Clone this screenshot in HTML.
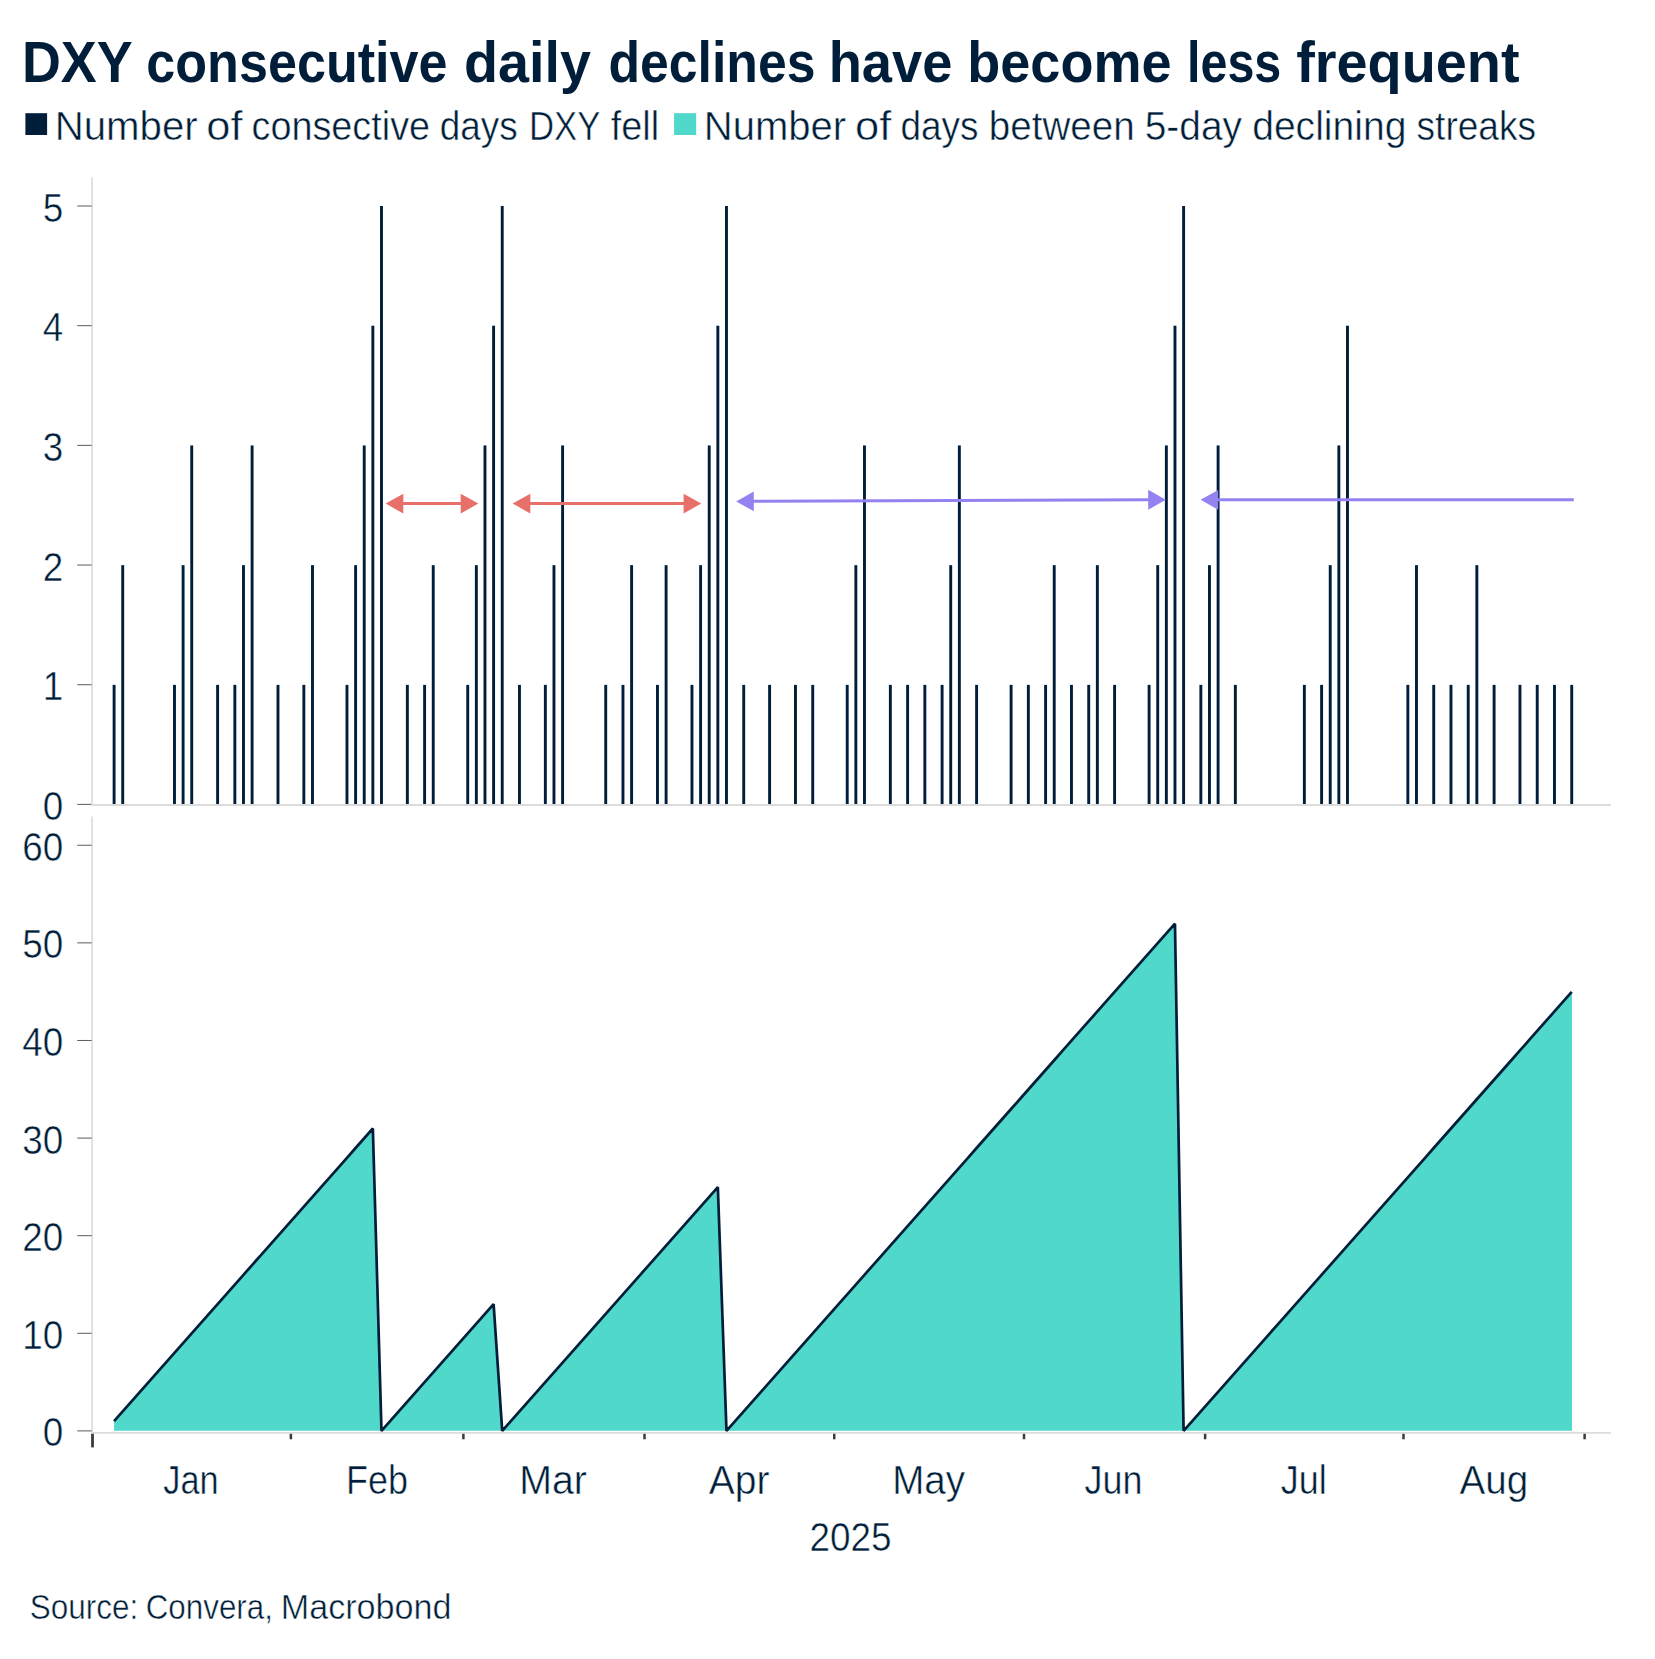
<!DOCTYPE html>
<html lang="en"><head><meta charset="utf-8"><title>DXY consecutive daily declines have become less frequent</title>
<style>html,body{margin:0;padding:0;background:#fff}body{width:1655px;height:1659px;overflow:hidden}svg{display:block}text{font-family:"Liberation Sans",Arial,sans-serif;fill:#001e39;font-kerning:none}</style></head><body>
<svg width="1655" height="1659" viewBox="0 0 1655 1659">
<rect width="1655" height="1659" fill="#fff"/>
<text y="82.2" font-size="57.2" font-weight="bold"><tspan x="21.90" textLength="110.77" lengthAdjust="spacingAndGlyphs">DXY</tspan> <tspan x="146.26" textLength="301.32" lengthAdjust="spacingAndGlyphs">consecutive</tspan> <tspan x="464.02" textLength="126.88" lengthAdjust="spacingAndGlyphs">daily</tspan> <tspan x="608.48" textLength="207.04" lengthAdjust="spacingAndGlyphs">declines</tspan> <tspan x="828.71" textLength="123.75" lengthAdjust="spacingAndGlyphs">have</tspan> <tspan x="967.24" textLength="204.31" lengthAdjust="spacingAndGlyphs">become</tspan> <tspan x="1187.02" textLength="94.27" lengthAdjust="spacingAndGlyphs">less</tspan> <tspan x="1296.15" textLength="223.44" lengthAdjust="spacingAndGlyphs">frequent</tspan></text>
<rect x="25.4" y="113.2" width="21.7" height="21.8" fill="#001e39"/>
<text y="139.55" font-size="39.8" stroke="#fff" stroke-width="0.5"><tspan x="54.70" textLength="143.07" lengthAdjust="spacingAndGlyphs">Number</tspan> <tspan x="206.27" textLength="36.26" lengthAdjust="spacingAndGlyphs">of</tspan> <tspan x="251.49" textLength="178.59" lengthAdjust="spacingAndGlyphs">consective</tspan> <tspan x="439.75" textLength="77.88" lengthAdjust="spacingAndGlyphs">days</tspan> <tspan x="528.95" textLength="71.41" lengthAdjust="spacingAndGlyphs">DXY</tspan> <tspan x="610.76" textLength="48.37" lengthAdjust="spacingAndGlyphs">fell</tspan></text>
<rect x="674.1" y="113.2" width="22.1" height="21.8" fill="#50d8cb"/>
<text y="139.55" font-size="39.8" stroke="#fff" stroke-width="0.5"><tspan x="703.82" textLength="142.35" lengthAdjust="spacingAndGlyphs">Number</tspan> <tspan x="854.97" textLength="36.26" lengthAdjust="spacingAndGlyphs">of</tspan> <tspan x="900.45" textLength="77.98" lengthAdjust="spacingAndGlyphs">days</tspan> <tspan x="988.81" textLength="145.89" lengthAdjust="spacingAndGlyphs">between</tspan> <tspan x="1144.74" textLength="97.33" lengthAdjust="spacingAndGlyphs">5-day</tspan> <tspan x="1252.16" textLength="154.26" lengthAdjust="spacingAndGlyphs">declining</tspan> <tspan x="1416.57" textLength="119.47" lengthAdjust="spacingAndGlyphs">streaks</tspan></text>
<line x1="92.1" y1="177.6" x2="92.1" y2="805.2" stroke="#dcdcdc" stroke-width="1.6"/>
<line x1="77.2" y1="804.40" x2="91.7" y2="804.40" stroke="#5c5c5c" stroke-width="1"/>
<text x="42.70" y="819.90" font-size="40.2" textLength="20.5" lengthAdjust="spacingAndGlyphs" stroke="#fff" stroke-width="0.5">0</text>
<line x1="77.2" y1="684.72" x2="91.7" y2="684.72" stroke="#5c5c5c" stroke-width="1"/>
<text x="42.70" y="700.22" font-size="40.2" textLength="20.5" lengthAdjust="spacingAndGlyphs" stroke="#fff" stroke-width="0.5">1</text>
<line x1="77.2" y1="565.04" x2="91.7" y2="565.04" stroke="#5c5c5c" stroke-width="1"/>
<text x="42.70" y="580.54" font-size="40.2" textLength="20.5" lengthAdjust="spacingAndGlyphs" stroke="#fff" stroke-width="0.5">2</text>
<line x1="77.2" y1="445.36" x2="91.7" y2="445.36" stroke="#5c5c5c" stroke-width="1"/>
<text x="42.70" y="460.86" font-size="40.2" textLength="20.5" lengthAdjust="spacingAndGlyphs" stroke="#fff" stroke-width="0.5">3</text>
<line x1="77.2" y1="325.68" x2="91.7" y2="325.68" stroke="#5c5c5c" stroke-width="1"/>
<text x="42.70" y="341.18" font-size="40.2" textLength="20.5" lengthAdjust="spacingAndGlyphs" stroke="#fff" stroke-width="0.5">4</text>
<line x1="77.2" y1="206.00" x2="91.7" y2="206.00" stroke="#5c5c5c" stroke-width="1"/>
<text x="42.70" y="221.50" font-size="40.2" textLength="20.5" lengthAdjust="spacingAndGlyphs" stroke="#fff" stroke-width="0.5">5</text>
<rect x="112.65" y="684.88" width="2.9" height="119.42" fill="#001e39"/>
<rect x="121.27" y="565.16" width="2.9" height="239.14" fill="#001e39"/>
<rect x="173.03" y="684.88" width="2.9" height="119.42" fill="#001e39"/>
<rect x="181.65" y="565.16" width="2.9" height="239.14" fill="#001e39"/>
<rect x="190.28" y="445.44" width="2.9" height="358.86" fill="#001e39"/>
<rect x="216.15" y="684.88" width="2.9" height="119.42" fill="#001e39"/>
<rect x="233.40" y="684.88" width="2.9" height="119.42" fill="#001e39"/>
<rect x="242.03" y="565.16" width="2.9" height="239.14" fill="#001e39"/>
<rect x="250.65" y="445.44" width="2.9" height="358.86" fill="#001e39"/>
<rect x="276.53" y="684.88" width="2.9" height="119.42" fill="#001e39"/>
<rect x="302.40" y="684.88" width="2.9" height="119.42" fill="#001e39"/>
<rect x="311.03" y="565.16" width="2.9" height="239.14" fill="#001e39"/>
<rect x="345.53" y="684.88" width="2.9" height="119.42" fill="#001e39"/>
<rect x="354.15" y="565.16" width="2.9" height="239.14" fill="#001e39"/>
<rect x="362.78" y="445.44" width="2.9" height="358.86" fill="#001e39"/>
<rect x="371.40" y="325.72" width="2.9" height="478.58" fill="#001e39"/>
<rect x="380.03" y="206.00" width="2.9" height="598.30" fill="#001e39"/>
<rect x="405.90" y="684.88" width="2.9" height="119.42" fill="#001e39"/>
<rect x="423.15" y="684.88" width="2.9" height="119.42" fill="#001e39"/>
<rect x="431.78" y="565.16" width="2.9" height="239.14" fill="#001e39"/>
<rect x="466.28" y="684.88" width="2.9" height="119.42" fill="#001e39"/>
<rect x="474.90" y="565.16" width="2.9" height="239.14" fill="#001e39"/>
<rect x="483.53" y="445.44" width="2.9" height="358.86" fill="#001e39"/>
<rect x="492.15" y="325.72" width="2.9" height="478.58" fill="#001e39"/>
<rect x="500.78" y="206.00" width="2.9" height="598.30" fill="#001e39"/>
<rect x="518.02" y="684.88" width="2.9" height="119.42" fill="#001e39"/>
<rect x="543.90" y="684.88" width="2.9" height="119.42" fill="#001e39"/>
<rect x="552.52" y="565.16" width="2.9" height="239.14" fill="#001e39"/>
<rect x="561.15" y="445.44" width="2.9" height="358.86" fill="#001e39"/>
<rect x="604.27" y="684.88" width="2.9" height="119.42" fill="#001e39"/>
<rect x="621.52" y="684.88" width="2.9" height="119.42" fill="#001e39"/>
<rect x="630.15" y="565.16" width="2.9" height="239.14" fill="#001e39"/>
<rect x="656.02" y="684.88" width="2.9" height="119.42" fill="#001e39"/>
<rect x="664.65" y="565.16" width="2.9" height="239.14" fill="#001e39"/>
<rect x="690.52" y="684.88" width="2.9" height="119.42" fill="#001e39"/>
<rect x="699.15" y="565.16" width="2.9" height="239.14" fill="#001e39"/>
<rect x="707.77" y="445.44" width="2.9" height="358.86" fill="#001e39"/>
<rect x="716.40" y="325.72" width="2.9" height="478.58" fill="#001e39"/>
<rect x="725.02" y="206.00" width="2.9" height="598.30" fill="#001e39"/>
<rect x="742.27" y="684.88" width="2.9" height="119.42" fill="#001e39"/>
<rect x="768.15" y="684.88" width="2.9" height="119.42" fill="#001e39"/>
<rect x="794.02" y="684.88" width="2.9" height="119.42" fill="#001e39"/>
<rect x="811.27" y="684.88" width="2.9" height="119.42" fill="#001e39"/>
<rect x="845.77" y="684.88" width="2.9" height="119.42" fill="#001e39"/>
<rect x="854.40" y="565.16" width="2.9" height="239.14" fill="#001e39"/>
<rect x="863.02" y="445.44" width="2.9" height="358.86" fill="#001e39"/>
<rect x="888.90" y="684.88" width="2.9" height="119.42" fill="#001e39"/>
<rect x="906.15" y="684.88" width="2.9" height="119.42" fill="#001e39"/>
<rect x="923.40" y="684.88" width="2.9" height="119.42" fill="#001e39"/>
<rect x="940.65" y="684.88" width="2.9" height="119.42" fill="#001e39"/>
<rect x="949.27" y="565.16" width="2.9" height="239.14" fill="#001e39"/>
<rect x="957.90" y="445.44" width="2.9" height="358.86" fill="#001e39"/>
<rect x="975.15" y="684.88" width="2.9" height="119.42" fill="#001e39"/>
<rect x="1009.65" y="684.88" width="2.9" height="119.42" fill="#001e39"/>
<rect x="1026.90" y="684.88" width="2.9" height="119.42" fill="#001e39"/>
<rect x="1044.15" y="684.88" width="2.9" height="119.42" fill="#001e39"/>
<rect x="1052.77" y="565.16" width="2.9" height="239.14" fill="#001e39"/>
<rect x="1070.02" y="684.88" width="2.9" height="119.42" fill="#001e39"/>
<rect x="1087.27" y="684.88" width="2.9" height="119.42" fill="#001e39"/>
<rect x="1095.90" y="565.16" width="2.9" height="239.14" fill="#001e39"/>
<rect x="1113.15" y="684.88" width="2.9" height="119.42" fill="#001e39"/>
<rect x="1147.65" y="684.88" width="2.9" height="119.42" fill="#001e39"/>
<rect x="1156.27" y="565.16" width="2.9" height="239.14" fill="#001e39"/>
<rect x="1164.90" y="445.44" width="2.9" height="358.86" fill="#001e39"/>
<rect x="1173.52" y="325.72" width="2.9" height="478.58" fill="#001e39"/>
<rect x="1182.15" y="206.00" width="2.9" height="598.30" fill="#001e39"/>
<rect x="1199.40" y="684.88" width="2.9" height="119.42" fill="#001e39"/>
<rect x="1208.02" y="565.16" width="2.9" height="239.14" fill="#001e39"/>
<rect x="1216.65" y="445.44" width="2.9" height="358.86" fill="#001e39"/>
<rect x="1233.90" y="684.88" width="2.9" height="119.42" fill="#001e39"/>
<rect x="1302.90" y="684.88" width="2.9" height="119.42" fill="#001e39"/>
<rect x="1320.15" y="684.88" width="2.9" height="119.42" fill="#001e39"/>
<rect x="1328.77" y="565.16" width="2.9" height="239.14" fill="#001e39"/>
<rect x="1337.40" y="445.44" width="2.9" height="358.86" fill="#001e39"/>
<rect x="1346.02" y="325.72" width="2.9" height="478.58" fill="#001e39"/>
<rect x="1406.40" y="684.88" width="2.9" height="119.42" fill="#001e39"/>
<rect x="1415.02" y="565.16" width="2.9" height="239.14" fill="#001e39"/>
<rect x="1432.27" y="684.88" width="2.9" height="119.42" fill="#001e39"/>
<rect x="1449.52" y="684.88" width="2.9" height="119.42" fill="#001e39"/>
<rect x="1466.77" y="684.88" width="2.9" height="119.42" fill="#001e39"/>
<rect x="1475.40" y="565.16" width="2.9" height="239.14" fill="#001e39"/>
<rect x="1492.65" y="684.88" width="2.9" height="119.42" fill="#001e39"/>
<rect x="1518.52" y="684.88" width="2.9" height="119.42" fill="#001e39"/>
<rect x="1535.77" y="684.88" width="2.9" height="119.42" fill="#001e39"/>
<rect x="1553.02" y="684.88" width="2.9" height="119.42" fill="#001e39"/>
<rect x="1570.27" y="684.88" width="2.9" height="119.42" fill="#001e39"/>
<line x1="91.3" y1="805.05" x2="1611" y2="805.05" stroke="#dcdcdc" stroke-width="1.9"/>
<line x1="401.54" y1="503.60" x2="462.46" y2="503.60" stroke="#e8706a" stroke-width="3.0"/>
<polygon points="385.70,503.60 403.30,513.50 403.30,493.70" fill="#e8706a"/>
<polygon points="478.30,503.60 460.70,513.50 460.70,493.70" fill="#e8706a"/>
<line x1="528.54" y1="503.60" x2="685.36" y2="503.60" stroke="#e8706a" stroke-width="3.0"/>
<polygon points="512.70,503.60 530.30,513.50 530.30,493.70" fill="#e8706a"/>
<polygon points="701.20,503.60 683.60,513.50 683.60,493.70" fill="#e8706a"/>
<line x1="752.04" y1="501.34" x2="1149.96" y2="499.76" stroke="#9482f0" stroke-width="3.0"/>
<polygon points="736.20,501.40 753.84,511.23 753.76,491.43" fill="#9482f0"/>
<polygon points="1165.80,499.70 1148.24,509.67 1148.16,489.87" fill="#9482f0"/>
<line x1="1216.44" y1="499.80" x2="1573.80" y2="499.80" stroke="#9482f0" stroke-width="3.0"/>
<polygon points="1200.60,499.80 1218.20,509.70 1218.20,489.90" fill="#9482f0"/>
<line x1="92.1" y1="816.4" x2="92.1" y2="1433.8" stroke="#dcdcdc" stroke-width="1.6"/>
<line x1="77.2" y1="1430.90" x2="91.7" y2="1430.90" stroke="#5c5c5c" stroke-width="1"/>
<text x="42.70" y="1446.40" font-size="40.2" textLength="20.5" lengthAdjust="spacingAndGlyphs" stroke="#fff" stroke-width="0.5">0</text>
<line x1="77.2" y1="1333.29" x2="91.7" y2="1333.29" stroke="#5c5c5c" stroke-width="1"/>
<text x="22.20" y="1348.79" font-size="40.2" textLength="41.0" lengthAdjust="spacingAndGlyphs" stroke="#fff" stroke-width="0.5">10</text>
<line x1="77.2" y1="1235.68" x2="91.7" y2="1235.68" stroke="#5c5c5c" stroke-width="1"/>
<text x="22.20" y="1251.18" font-size="40.2" textLength="41.0" lengthAdjust="spacingAndGlyphs" stroke="#fff" stroke-width="0.5">20</text>
<line x1="77.2" y1="1138.08" x2="91.7" y2="1138.08" stroke="#5c5c5c" stroke-width="1"/>
<text x="22.20" y="1153.58" font-size="40.2" textLength="41.0" lengthAdjust="spacingAndGlyphs" stroke="#fff" stroke-width="0.5">30</text>
<line x1="77.2" y1="1040.47" x2="91.7" y2="1040.47" stroke="#5c5c5c" stroke-width="1"/>
<text x="22.20" y="1055.97" font-size="40.2" textLength="41.0" lengthAdjust="spacingAndGlyphs" stroke="#fff" stroke-width="0.5">40</text>
<line x1="77.2" y1="942.86" x2="91.7" y2="942.86" stroke="#5c5c5c" stroke-width="1"/>
<text x="22.20" y="958.36" font-size="40.2" textLength="41.0" lengthAdjust="spacingAndGlyphs" stroke="#fff" stroke-width="0.5">50</text>
<line x1="77.2" y1="845.25" x2="91.7" y2="845.25" stroke="#5c5c5c" stroke-width="1"/>
<text x="22.20" y="860.75" font-size="40.2" textLength="41.0" lengthAdjust="spacingAndGlyphs" stroke="#fff" stroke-width="0.5">60</text>
<path d="M114.10,1430.85 L114.10,1421.10 L122.72,1411.34 L131.35,1401.59 L139.97,1391.84 L148.60,1382.08 L157.22,1372.33 L165.85,1362.58 L174.47,1352.83 L183.10,1343.07 L191.72,1333.32 L200.35,1323.57 L208.97,1313.81 L217.60,1304.06 L226.22,1294.31 L234.85,1284.55 L243.47,1274.80 L252.10,1265.05 L260.73,1255.30 L269.35,1245.54 L277.98,1235.79 L286.60,1226.04 L295.23,1216.28 L303.85,1206.53 L312.48,1196.78 L321.10,1187.02 L329.73,1177.27 L338.35,1167.52 L346.98,1157.77 L355.60,1148.01 L364.23,1138.26 L372.85,1128.51 L381.48,1430.85 L390.10,1421.10 L398.73,1411.34 L407.35,1401.59 L415.98,1391.84 L424.60,1382.08 L433.23,1372.33 L441.85,1362.58 L450.48,1352.83 L459.10,1343.07 L467.73,1333.32 L476.35,1323.57 L484.98,1313.81 L493.60,1304.06 L502.23,1430.85 L510.85,1421.10 L519.48,1411.34 L528.10,1401.59 L536.73,1391.84 L545.35,1382.08 L553.98,1372.33 L562.60,1362.58 L571.23,1352.83 L579.85,1343.07 L588.48,1333.32 L597.10,1323.57 L605.73,1313.81 L614.35,1304.06 L622.98,1294.31 L631.60,1284.55 L640.23,1274.80 L648.85,1265.05 L657.48,1255.30 L666.10,1245.54 L674.73,1235.79 L683.35,1226.04 L691.98,1216.28 L700.60,1206.53 L709.23,1196.78 L717.85,1187.02 L726.48,1430.85 L735.10,1421.10 L743.73,1411.34 L752.35,1401.59 L760.98,1391.84 L769.60,1382.08 L778.23,1372.33 L786.85,1362.58 L795.48,1352.83 L804.10,1343.07 L812.73,1333.32 L821.35,1323.57 L829.98,1313.81 L838.60,1304.06 L847.23,1294.31 L855.85,1284.55 L864.48,1274.80 L873.10,1265.05 L881.73,1255.30 L890.35,1245.54 L898.98,1235.79 L907.60,1226.04 L916.23,1216.28 L924.85,1206.53 L933.48,1196.78 L942.10,1187.02 L950.73,1177.27 L959.35,1167.52 L967.98,1157.77 L976.60,1148.01 L985.23,1138.26 L993.85,1128.51 L1002.48,1118.75 L1011.10,1109.00 L1019.73,1099.25 L1028.35,1089.49 L1036.97,1079.74 L1045.60,1069.99 L1054.22,1060.24 L1062.85,1050.48 L1071.47,1040.73 L1080.10,1030.98 L1088.72,1021.22 L1097.35,1011.47 L1105.97,1001.72 L1114.60,991.96 L1123.22,982.21 L1131.85,972.46 L1140.47,962.71 L1149.10,952.95 L1157.72,943.20 L1166.35,933.45 L1174.97,923.69 L1183.60,1430.85 L1192.22,1421.10 L1200.85,1411.34 L1209.47,1401.59 L1218.10,1391.84 L1226.72,1382.08 L1235.35,1372.33 L1243.97,1362.58 L1252.60,1352.83 L1261.22,1343.07 L1269.85,1333.32 L1278.47,1323.57 L1287.10,1313.81 L1295.72,1304.06 L1304.35,1294.31 L1312.97,1284.55 L1321.60,1274.80 L1330.22,1265.05 L1338.85,1255.30 L1347.47,1245.54 L1356.10,1235.79 L1364.72,1226.04 L1373.35,1216.28 L1381.97,1206.53 L1390.60,1196.78 L1399.22,1187.02 L1407.85,1177.27 L1416.47,1167.52 L1425.10,1157.77 L1433.72,1148.01 L1442.35,1138.26 L1450.97,1128.51 L1459.60,1118.75 L1468.22,1109.00 L1476.85,1099.25 L1485.47,1089.49 L1494.10,1079.74 L1502.72,1069.99 L1511.35,1060.24 L1519.97,1050.48 L1528.60,1040.73 L1537.22,1030.98 L1545.85,1021.22 L1554.47,1011.47 L1563.10,1001.72 L1571.72,991.96 L1572.02,991.96 L1572.02,1430.85 Z" fill="#50d8cb"/>
<path d="M114.10,1421.10 L122.72,1411.34 L131.35,1401.59 L139.97,1391.84 L148.60,1382.08 L157.22,1372.33 L165.85,1362.58 L174.47,1352.83 L183.10,1343.07 L191.72,1333.32 L200.35,1323.57 L208.97,1313.81 L217.60,1304.06 L226.22,1294.31 L234.85,1284.55 L243.47,1274.80 L252.10,1265.05 L260.73,1255.30 L269.35,1245.54 L277.98,1235.79 L286.60,1226.04 L295.23,1216.28 L303.85,1206.53 L312.48,1196.78 L321.10,1187.02 L329.73,1177.27 L338.35,1167.52 L346.98,1157.77 L355.60,1148.01 L364.23,1138.26 L372.85,1128.51 L381.48,1430.85 L390.10,1421.10 L398.73,1411.34 L407.35,1401.59 L415.98,1391.84 L424.60,1382.08 L433.23,1372.33 L441.85,1362.58 L450.48,1352.83 L459.10,1343.07 L467.73,1333.32 L476.35,1323.57 L484.98,1313.81 L493.60,1304.06 L502.23,1430.85 L510.85,1421.10 L519.48,1411.34 L528.10,1401.59 L536.73,1391.84 L545.35,1382.08 L553.98,1372.33 L562.60,1362.58 L571.23,1352.83 L579.85,1343.07 L588.48,1333.32 L597.10,1323.57 L605.73,1313.81 L614.35,1304.06 L622.98,1294.31 L631.60,1284.55 L640.23,1274.80 L648.85,1265.05 L657.48,1255.30 L666.10,1245.54 L674.73,1235.79 L683.35,1226.04 L691.98,1216.28 L700.60,1206.53 L709.23,1196.78 L717.85,1187.02 L726.48,1430.85 L735.10,1421.10 L743.73,1411.34 L752.35,1401.59 L760.98,1391.84 L769.60,1382.08 L778.23,1372.33 L786.85,1362.58 L795.48,1352.83 L804.10,1343.07 L812.73,1333.32 L821.35,1323.57 L829.98,1313.81 L838.60,1304.06 L847.23,1294.31 L855.85,1284.55 L864.48,1274.80 L873.10,1265.05 L881.73,1255.30 L890.35,1245.54 L898.98,1235.79 L907.60,1226.04 L916.23,1216.28 L924.85,1206.53 L933.48,1196.78 L942.10,1187.02 L950.73,1177.27 L959.35,1167.52 L967.98,1157.77 L976.60,1148.01 L985.23,1138.26 L993.85,1128.51 L1002.48,1118.75 L1011.10,1109.00 L1019.73,1099.25 L1028.35,1089.49 L1036.97,1079.74 L1045.60,1069.99 L1054.22,1060.24 L1062.85,1050.48 L1071.47,1040.73 L1080.10,1030.98 L1088.72,1021.22 L1097.35,1011.47 L1105.97,1001.72 L1114.60,991.96 L1123.22,982.21 L1131.85,972.46 L1140.47,962.71 L1149.10,952.95 L1157.72,943.20 L1166.35,933.45 L1174.97,923.69 L1183.60,1430.85 L1192.22,1421.10 L1200.85,1411.34 L1209.47,1401.59 L1218.10,1391.84 L1226.72,1382.08 L1235.35,1372.33 L1243.97,1362.58 L1252.60,1352.83 L1261.22,1343.07 L1269.85,1333.32 L1278.47,1323.57 L1287.10,1313.81 L1295.72,1304.06 L1304.35,1294.31 L1312.97,1284.55 L1321.60,1274.80 L1330.22,1265.05 L1338.85,1255.30 L1347.47,1245.54 L1356.10,1235.79 L1364.72,1226.04 L1373.35,1216.28 L1381.97,1206.53 L1390.60,1196.78 L1399.22,1187.02 L1407.85,1177.27 L1416.47,1167.52 L1425.10,1157.77 L1433.72,1148.01 L1442.35,1138.26 L1450.97,1128.51 L1459.60,1118.75 L1468.22,1109.00 L1476.85,1099.25 L1485.47,1089.49 L1494.10,1079.74 L1502.72,1069.99 L1511.35,1060.24 L1519.97,1050.48 L1528.60,1040.73 L1537.22,1030.98 L1545.85,1021.22 L1554.47,1011.47 L1563.10,1001.72 L1571.72,991.96" fill="none" stroke="#001e39" stroke-width="2.7" stroke-linejoin="bevel" stroke-linecap="butt"/>
<line x1="91.3" y1="1432.9" x2="1611" y2="1432.9" stroke="#dcdcdc" stroke-width="1.8"/>
<line x1="92.50" y1="1433.8" x2="92.50" y2="1447.4" stroke="#3c3c3c" stroke-width="2.8"/>
<line x1="290.88" y1="1433.8" x2="290.88" y2="1439.3" stroke="#3c3c3c" stroke-width="2.5"/>
<line x1="463.38" y1="1433.8" x2="463.38" y2="1439.3" stroke="#3c3c3c" stroke-width="2.5"/>
<line x1="644.50" y1="1433.8" x2="644.50" y2="1439.3" stroke="#3c3c3c" stroke-width="2.5"/>
<line x1="834.25" y1="1433.8" x2="834.25" y2="1439.3" stroke="#3c3c3c" stroke-width="2.5"/>
<line x1="1024.00" y1="1433.8" x2="1024.00" y2="1439.3" stroke="#3c3c3c" stroke-width="2.5"/>
<line x1="1205.12" y1="1433.8" x2="1205.12" y2="1439.3" stroke="#3c3c3c" stroke-width="2.5"/>
<line x1="1403.50" y1="1433.8" x2="1403.50" y2="1439.3" stroke="#3c3c3c" stroke-width="2.5"/>
<line x1="1584.62" y1="1433.8" x2="1584.62" y2="1439.3" stroke="#3c3c3c" stroke-width="2.5"/>
<text y="1493.6" font-size="40.0" stroke="#fff" stroke-width="0.5"><tspan x="163.26" textLength="55.37" lengthAdjust="spacingAndGlyphs">Jan</tspan></text>
<text y="1493.6" font-size="40.0" stroke="#fff" stroke-width="0.5"><tspan x="345.95" textLength="61.96" lengthAdjust="spacingAndGlyphs">Feb</tspan></text>
<text y="1493.6" font-size="40.0" stroke="#fff" stroke-width="0.5"><tspan x="519.17" textLength="67.78" lengthAdjust="spacingAndGlyphs">Mar</tspan></text>
<text y="1493.6" font-size="40.0" stroke="#fff" stroke-width="0.5"><tspan x="708.82" textLength="60.72" lengthAdjust="spacingAndGlyphs">Apr</tspan></text>
<text y="1493.6" font-size="40.0" stroke="#fff" stroke-width="0.5"><tspan x="892.24" textLength="72.84" lengthAdjust="spacingAndGlyphs">May</tspan></text>
<text y="1493.6" font-size="40.0" stroke="#fff" stroke-width="0.5"><tspan x="1084.54" textLength="57.89" lengthAdjust="spacingAndGlyphs">Jun</tspan></text>
<text y="1493.6" font-size="40.0" stroke="#fff" stroke-width="0.5"><tspan x="1280.74" textLength="45.97" lengthAdjust="spacingAndGlyphs">Jul</tspan></text>
<text y="1493.6" font-size="40.0" stroke="#fff" stroke-width="0.5"><tspan x="1459.52" textLength="68.66" lengthAdjust="spacingAndGlyphs">Aug</tspan></text>
<text y="1550.8" font-size="40.2" stroke="#fff" stroke-width="0.5"><tspan x="809.54" textLength="82.11" lengthAdjust="spacingAndGlyphs">2025</tspan></text>
<text y="1618.6" font-size="34.2" stroke="#fff" stroke-width="0.5"><tspan x="29.67" textLength="108.50" lengthAdjust="spacingAndGlyphs">Source:</tspan> <tspan x="145.71" textLength="127.21" lengthAdjust="spacingAndGlyphs">Convera,</tspan> <tspan x="280.70" textLength="170.90" lengthAdjust="spacingAndGlyphs">Macrobond</tspan></text>
</svg></body></html>
